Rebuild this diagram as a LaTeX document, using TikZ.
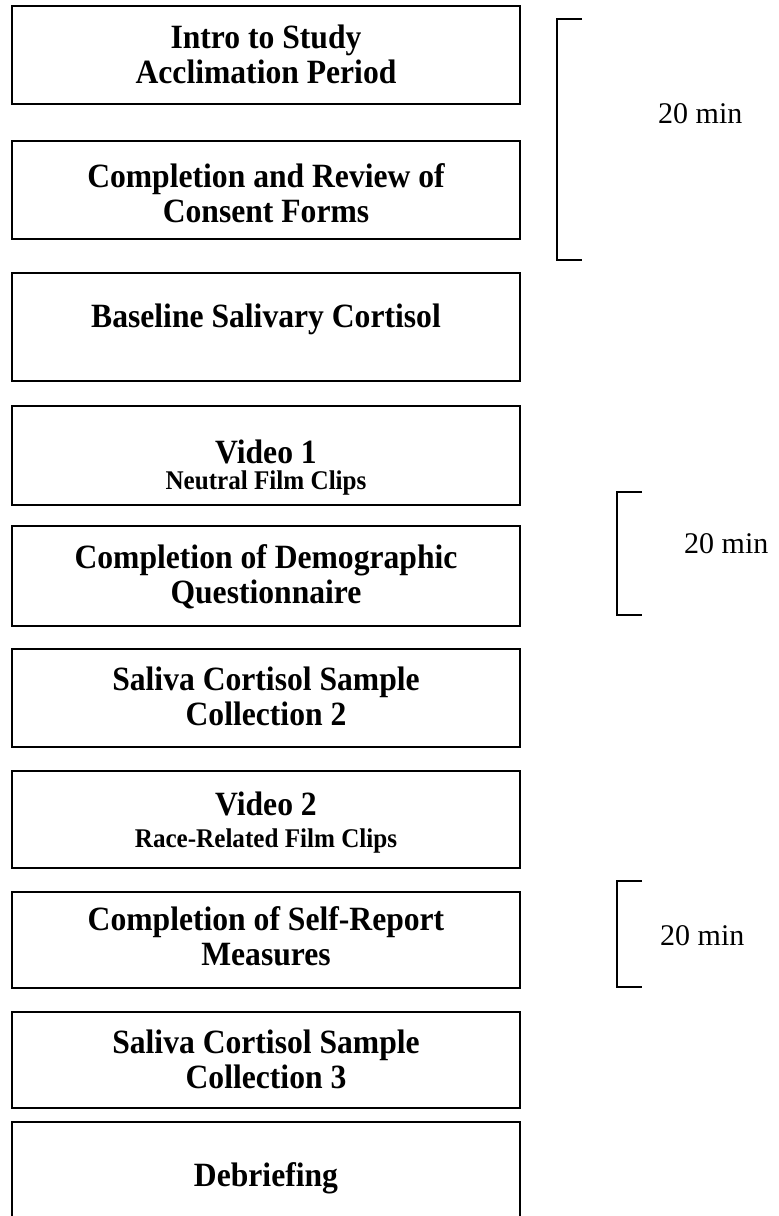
\documentclass[tikz,border=0pt]{standalone}
\usepackage{fontspec}
\setmainfont{Liberation Serif}
\newfontfamily\boxfont[FakeStretch=0.93]{Liberation Serif}
\begin{document}
\begin{tikzpicture}[x=1pt,y=-1pt,
  stepbox/.style={draw, line width=2.4pt, minimum width=508pt, inner sep=0pt},
  big/.style={font=\boxfont\bfseries\fontsize{34}{35}\selectfont, align=center, anchor=base, inner sep=0pt},
  small/.style={font=\boxfont\bfseries\fontsize{27}{28}\selectfont, align=center, anchor=base, inner sep=0pt},
  mins/.style={font=\fontsize{30}{32}\selectfont, anchor=base west, inner sep=0pt},
  brk/.style={line width=1.8pt}]
\useasboundingbox (0,0) rectangle (779,1216);
\clip (0,0) rectangle (779,1216);
% boxes
\node[stepbox, minimum height=98pt] (b1) at (266,55) {};
\node[stepbox, minimum height=98pt] (b2) at (266,190) {};
\node[stepbox, minimum height=108pt] (b3) at (266,327) {};
\node[stepbox, minimum height=99pt] (b4) at (266,455.5) {};
\node[stepbox, minimum height=100pt] (b5) at (266,576) {};
\node[stepbox, minimum height=98pt] (b6) at (266,698) {};
\node[stepbox, minimum height=97pt] (b7) at (266,819.5) {};
\node[stepbox, minimum height=96pt] (b8) at (266,940) {};
\node[stepbox, minimum height=96pt] (b9) at (266,1060) {};
\node[stepbox, minimum height=120pt] (b10) at (266,1182) {};
% texts (anchor base = last line's baseline)
\node[big] (t1) at (266,83) {Intro to Study\\Acclimation Period};
\node[big] (t2) at (266,222) {Completion and Review of\\Consent Forms};
\node[big] (t3) at (266,327) {Baseline Salivary Cortisol};
\node[big] (t4) at (266,463) {Video 1};
\node[small] (t4b) at (266,489) {Neutral Film Clips};
\node[big] (t5) at (266,603) {Completion of Demographic\\Questionnaire};
\node[big] (t6) at (266,725) {Saliva Cortisol Sample\\Collection 2};
\node[big] (t7) at (266,815) {Video 2};
\node[small] (t7b) at (266,847) {Race-Related Film Clips};
\node[big] (t8) at (266,965) {Completion of Self-Report\\Measures};
\node[big] (t9) at (266,1088) {Saliva Cortisol Sample\\Collection 3};
\node[big] (t10) at (266,1186) {Debriefing};
% brackets
\draw[brk] (582,19) -- (557,19) -- (557,260) -- (582,260);
\draw[brk] (642,492) -- (617,492) -- (617,615) -- (642,615);
\draw[brk] (642,881) -- (617,881) -- (617,987) -- (642,987);
\node[mins] (m1) at (658,123) {20 min};
\node[mins] (m2) at (684,553) {20 min};
\node[mins] (m3) at (660,945) {20 min};
\end{tikzpicture}
\end{document}
